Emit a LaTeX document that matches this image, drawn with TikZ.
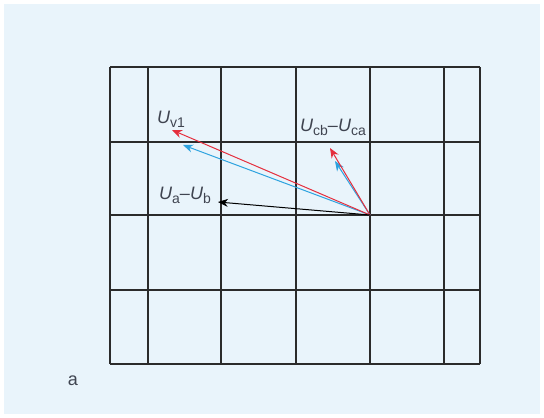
\documentclass[tikz,border=0pt]{standalone}
\usepackage{fontspec}
\setmainfont{Liberation Sans}
\usetikzlibrary{arrows.meta}
\definecolor{bgblue}{HTML}{E9F4FB}
\definecolor{vred}{HTML}{E52E3D}
\definecolor{vblue}{HTML}{2EA3DF}
\definecolor{gridc}{HTML}{2B2B2B}
\definecolor{labc}{HTML}{3F4450}
\tikzset{
  gridline/.style={draw=gridc, line width=1.3pt},
  vec/.style={line width=1pt, -{Stealth[length=10pt,width=8pt]}},
  lab/.style={text=labc, font=\fontsize{18}{20}\selectfont, inner sep=0pt},
}
\newcommand{\vU}{\textit{U}}
\newcommand{\sbs}[1]{\raisebox{-4pt}{\fontsize{14}{14}\selectfont #1}}
\begin{document}
\begin{tikzpicture}[x=1pt,y=-1pt]
\useasboundingbox (0,0) rectangle (544,418);
\fill[white] (0,0) rectangle (544,418);
\fill[bgblue] (4,4) rectangle (540,414);
% grid
\foreach \x in {110,148,221,296,370,444,480} \draw[gridline] (\x,67) -- (\x,364);
\foreach \y in {67,142,215,290,364} \draw[gridline] (110,\y) -- (480,\y);
% vectors
\coordinate (O) at (370,215);
\coordinate (r1) at (172,130);
\coordinate (b1) at (183,145);
\coordinate (k1) at (218,202);
\coordinate (r2) at (330,148);
\coordinate (b2) at (335,161);
\draw[vec, vblue] (O) -- (b1);
\draw[vec, vred] (O) -- (r1);
\draw[vec, vblue] (O) -- (b2);
\draw[vec, vred] (O) -- (r2);
\draw[vec, black] (O) -- (k1);
% labels
\node[lab] (lv1) at (171,119) {\vU\sbs{v1}};
\node[lab] (lcb) at (333,127) {\vU\sbs{cb}–\vU\sbs{ca}};
\node[lab] (lab) at (185,195) {\vU\sbs{a}–\vU\sbs{b}};
\node[lab] (la) at (73,381) {a};
\end{tikzpicture}
\end{document}
